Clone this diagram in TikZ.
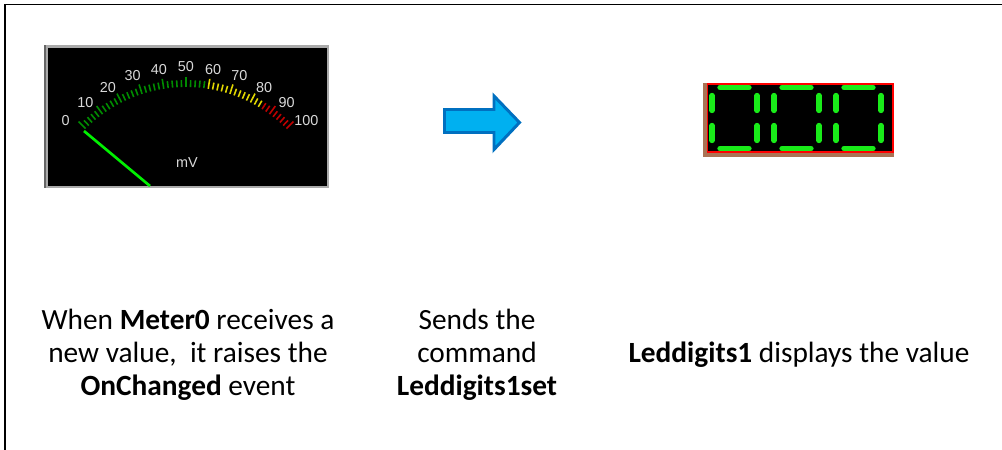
\documentclass[tikz,border=0pt]{standalone}
\usepackage{fontspec}
\setmainfont{Carlito}
\newfontfamily\dialfont{Liberation Sans}
\usetikzlibrary{calc}

\definecolor{dialgreen}{RGB}{0,140,0}
\definecolor{dialyellow}{RGB}{225,215,0}
\definecolor{dialred}{RGB}{190,0,0}
\definecolor{needlegreen}{RGB}{0,240,0}
\definecolor{ledgreen}{RGB}{25,235,25}
\definecolor{arrowfill}{RGB}{0,176,240}
\definecolor{arrowline}{RGB}{0,112,192}
\definecolor{bezel}{RGB}{170,170,170}
\definecolor{ledrim}{RGB}{170,115,85}

\begin{document}
\begin{tikzpicture}[x=0.02cm,y=-0.02cm,
caption/.style={font=\fontsize{16.7}{18.8}\selectfont,align=center},
dial/.style={font=\dialfont\fontsize{8.2}{9}\selectfont,text=black!15,inner sep=0},
segment/.style={ledgreen,line width=3pt,line cap=round}]

\useasboundingbox (0,0) rectangle (1002,450);
\draw[line width=0.9pt] (5,450) -- (5,4.5) -- (1002,4.5);

% meter face
\fill[bezel] (44,45) rectangle (329,188);
\fill[black!60] (44,45) rectangle (46,188);
\fill[black] (48,47.5) rectangle (327,186);

	\def \cx {186}
	\def \cy {229}
	\def \r {142}
\begin{scope}
\clip (48,47.5) rectangle (327,186);
\foreach \v in {0,2,...,100} {
	\pgfmathsetmacro\a{135-0.9*\v}
	\pgfmathtruncatemacro\m{mod(\v,10)}
	\ifnum\m=0 \def\len{10}\else\def\len{7}\fi
	\ifnum\v<60 \def\tc{dialgreen}\else\ifnum\v<85 \def\tc{dialyellow}\else\def\tc{dialred}\fi\fi
	\draw[\tc,line width=0.9pt] ({\cx+\r*cos(\a)},{\cy-\r*sin(\a)}) -- ({\cx+(\r+\len)*cos(\a)},{\cy-(\r+\len)*sin(\a)});
}
\draw[needlegreen,line width=1.5pt] (84,131) -- (150,186);
\end{scope}
\foreach \v in {0,10,...,100}
	\node[dial] (d\v) at ({\cx+162*cos(138-0.96*\v)},{\cy-162*sin(138-0.96*\v)}) {\v};
\node[dial] (unit) at (187,163) {mV};

% arrow
\draw[arrowline,fill=arrowfill,line width=1.7pt,line join=miter]
	(444.5,109.5) -- (494,109.5) -- (494,96) -- (519.5,122.5) -- (494,149.5) -- (494,132.5) -- (444.5,132.5) -- cycle;

% led display
\fill[ledrim] (703,83) rectangle (894,157);
\fill[black] (707,83) rectangle (894,153);
\draw[red,line width=0.9pt] (707.5,84) rectangle (893,152);
\foreach \i in {0,1,2} {
	\pgfmathsetmacro\l{712+62*\i}
	\pgfmathsetmacro\rr{\l+45}
	\draw[segment] (\l+8,87.5) -- (\rr-8,87.5);
	\draw[segment] (\l+8,148.5) -- (\rr-8,148.5);
	\draw[segment] (\l,95.5) -- (\l,110.5) (\l,125.5) -- (\l,140.5);
	\draw[segment] (\rr,95.5) -- (\rr,110.5) (\rr,125.5) -- (\rr,140.5);
}

\node[caption] (meterText) at (188,355) {When \textbf{Meter0} receives a\\new value,~ it raises the\\\textbf{OnChanged} event};
\node[caption] (sendText) at (477,355) {Sends the\\command\\\textbf{Leddigits1set}};
\node[caption] (ledText) at (799,355) {\textbf{Leddigits1} displays the value};
\end{tikzpicture}
\end{document}
